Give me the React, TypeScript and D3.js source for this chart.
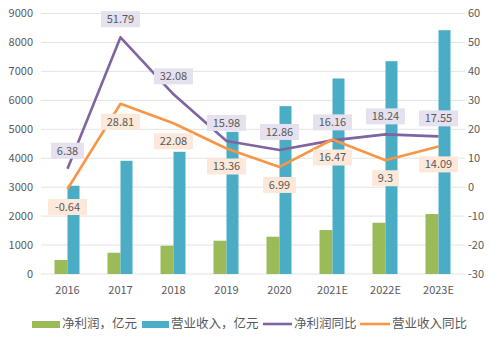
import React from "react";
import * as d3 from "d3";

const categories = ["2016", "2017", "2018", "2019", "2020", "2021E", "2022E", "2023E"];
const netProfit = [483, 735, 977, 1150, 1288, 1519, 1771, 2071];
const revenue = [3048, 3911, 4222, 4912, 5799, 6755, 7353, 8423];
const profitYoY = [6.38, 51.79, 32.08, 15.98, 12.86, 16.16, 18.24, 17.55];
const revenueYoY = [-0.64, 28.81, 22.08, 13.36, 6.99, 16.47, 9.3, 14.09];
const leftTicks = [0, 1000, 2000, 3000, 4000, 5000, 6000, 7000, 8000, 9000];
const rightTicks = [-30, -20, -10, 0, 10, 20, 30, 40, 50, 60];
const seriesNames = ["净利润，亿元", "营业收入，亿元", "净利润同比", "营业收入同比"];

const GREEN = "#9bbb59";
const BLUE = "#4bacc6";
const PURPLE = "#8064a2";
const ORANGE = "#f79646";
const TEXT = "#595959";
const FONT = "'Noto Sans CJK SC', 'Noto Sans', sans-serif";

export default function App() {
  const W = 500, H = 337;
  const x = d3.scaleBand().domain(categories).range([41, 465]).padding(0);
  const yL = d3.scaleLinear().domain([0, 9000]).range([274, 13.5]);
  const yR = d3.scaleLinear().domain([-30, 60]).range([274, 13.5]);
  const cx = (c: string) => (x(c) as number) + x.bandwidth() / 2;
  const line = d3.line<number>().x((_, i) => cx(categories[i])).y((d) => yR(d));

  const label = (v: number, i: number, above: boolean, fill: string, key: string) => {
    const px = cx(categories[i]);
    const py = yR(v) + (above ? -18 : 18);
    const txt = String(v);
    const w = txt.length * 6.2 + 8;
    return (
      <g key={key}>
        <rect x={px - w / 2} y={py - 8} width={w} height={16} fill={fill} />
        <text x={px} y={py} dy="0.35em" textAnchor="middle" fontSize={11} fill={TEXT} fontFamily={FONT}>{txt}</text>
      </g>
    );
  };

  return (
    <svg width={W} height={H} style={{ position: "absolute", left: 0, top: 0, background: "#fff" }}>
      {leftTicks.map((t) => (
        <line key={"g" + t} x1={41} x2={465} y1={yL(t)} y2={yL(t)} stroke="#e3e3e3" strokeWidth={1} />
      ))}
      {leftTicks.map((t) => (
        <text key={"l" + t} x={33} y={yL(t)} dy="0.35em" textAnchor="end" fontSize={11} fill={TEXT} fontFamily={FONT}>{t}</text>
      ))}
      {rightTicks.map((t) => (
        <text key={"r" + t} x={468} y={yR(t)} dy="0.35em" textAnchor="start" fontSize={11} fill={TEXT} fontFamily={FONT}>{t}</text>
      ))}
      {categories.map((c) => (
        <text key={"x" + c} x={cx(c)} y={290} dy="0.35em" textAnchor="middle" fontSize={11} fill={TEXT} fontFamily={FONT}>{c}</text>
      ))}
      {categories.map((c, i) => (
        <g key={"b" + c}>
          <rect x={cx(c) - 13} y={yL(netProfit[i])} width={13} height={yL(0) - yL(netProfit[i])} fill={GREEN} />
          <rect x={cx(c)} y={yL(revenue[i])} width={12} height={yL(0) - yL(revenue[i])} fill={BLUE} />
        </g>
      ))}
      <path d={line(profitYoY) || ""} fill="none" stroke={PURPLE} strokeWidth={2.6} strokeLinejoin="round" />
      <path d={line(revenueYoY) || ""} fill="none" stroke={ORANGE} strokeWidth={2.6} strokeLinejoin="round" />
      {profitYoY.map((v, i) => label(v, i, true, "#e6e1ee", "pl" + i))}
      {revenueYoY.map((v, i) => label(v, i, false, "#fde8da", "rl" + i))}
      <g fontFamily={FONT} fontSize={12.5} fill={TEXT}>
        <rect x={32} y={321} width={28} height={7} fill={GREEN} />
        <text x={62} y={324} dy="0.35em">{seriesNames[0]}</text>
        <rect x={142} y={321} width={27} height={7} fill={BLUE} />
        <text x={171} y={324} dy="0.35em">{seriesNames[1]}</text>
        <line x1={263} x2={292} y1={324} y2={324} stroke={PURPLE} strokeWidth={2.6} />
        <text x={294} y={324} dy="0.35em">{seriesNames[2]}</text>
        <line x1={360} x2={390} y1={324} y2={324} stroke={ORANGE} strokeWidth={2.6} />
        <text x={392} y={324} dy="0.35em">{seriesNames[3]}</text>
      </g>
    </svg>
  );
}
